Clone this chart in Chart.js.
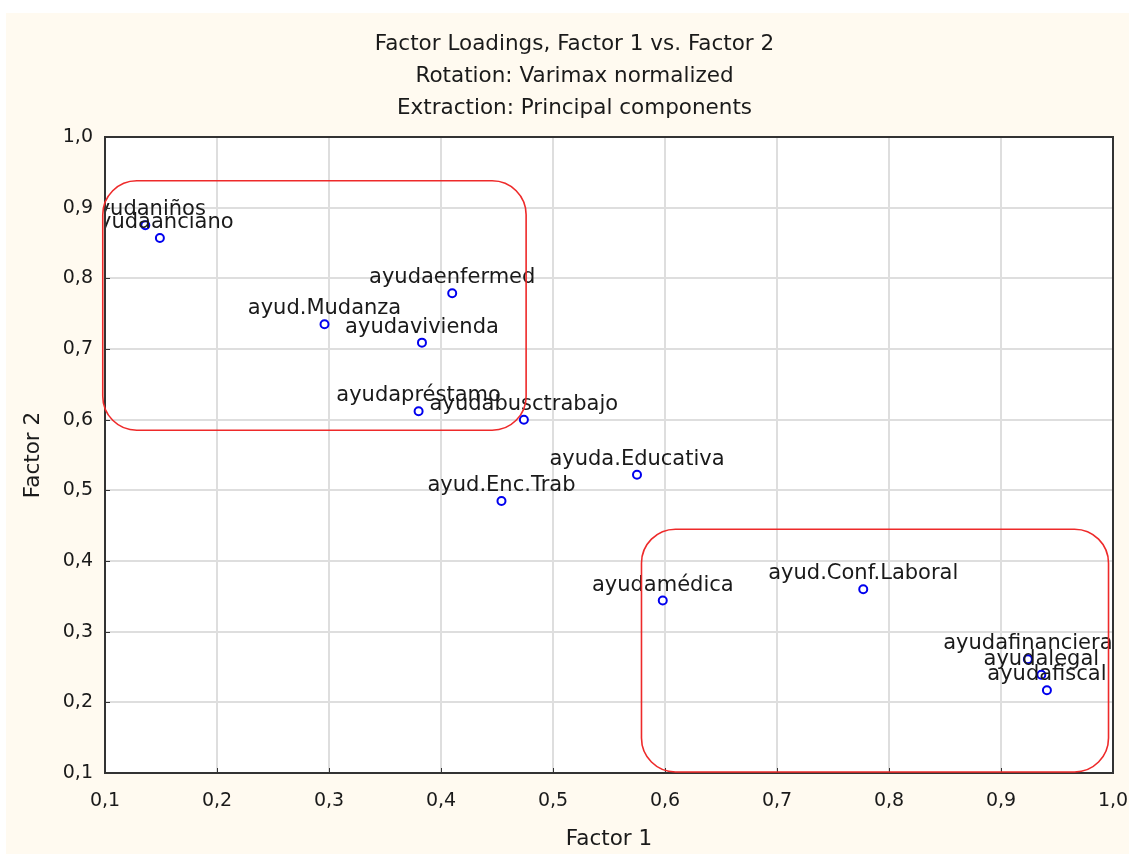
<!DOCTYPE html>
<html>
<head>
<meta charset="utf-8">
<title>Factor Loadings</title>
<script src="https://cdn.jsdelivr.net/npm/chart.js@4.4.1/dist/chart.umd.min.js"></script>
<style>
  html, body { margin: 0; padding: 0; background: #ffffff; }
  #wrap {
    position: absolute; left: 6px; top: 13px;
    width: 1123px; height: 841px;
    background: #fffaf0;
  }
</style>
</head>
<body>
<div id="wrap"><canvas id="loadings" width="1123" height="841"></canvas></div>
<script>
/* ── data ────────────────────────────────────────────────────── */
const varNames = [
    "ayudaniños", "ayudaanciano", "ayudaenfermed", "ayud.Mudanza",
    "ayudavivienda", "ayudapréstamo", "ayudabusctrabajo", "ayuda.Educativa",
    "ayud.Enc.Trab", "ayudamédica", "ayud.Conf.Laboral", "ayudafinanciera",
    "ayudalegal", "ayudafiscal"
];
const factor1 = [0.136, 0.149, 0.410, 0.296, 0.383, 0.380, 0.474, 0.575,
                 0.454, 0.598, 0.777, 0.924, 0.936, 0.941];
const factor2 = [0.875, 0.857, 0.779, 0.735, 0.709, 0.612, 0.600, 0.522,
                 0.485, 0.344, 0.360, 0.261, 0.239, 0.217];

const xTickLabels = ["0,1", "0,2", "0,3", "0,4", "0,5", "0,6", "0,7", "0,8", "0,9", "1,0"];
const yTickLabels = ["0,1", "0,2", "0,3", "0,4", "0,5", "0,6", "0,7", "0,8", "0,9", "1,0"];

// hand-drawn groupings, in factor units: from / to
const groupF1 = [0.098, 0.476];
const groupF2 = [0.585, 0.938];
const group2F1 = [0.579, 0.996];
const group2F2 = [0.1015, 0.445];

const titleLines = [
    "Factor Loadings, Factor 1 vs. Factor 2",
    "Rotation: Varimax normalized",
    "Extraction: Principal components"
];

const FONT = "'DejaVu Sans', Arial, sans-serif";
const INK  = "#1a1a1a";

/* ── plot area background, labels, frame, groupings ──────────── */
const decorations = {
    id: "decorations",
    beforeDraw(chart) {
        const {ctx, chartArea: a} = chart;
        ctx.save();
        ctx.fillStyle = "#ffffff";
        ctx.fillRect(a.left, a.top, a.right - a.left, a.bottom - a.top);
        ctx.restore();
    },
    afterDatasetsDraw(chart) {
        const {ctx, chartArea: a} = chart;
        const meta = chart.getDatasetMeta(0);
        ctx.save();
        ctx.beginPath();
        ctx.rect(a.left, a.top, a.right - a.left, a.bottom - a.top);
        ctx.clip();
        ctx.font = "21px " + FONT;
        ctx.fillStyle = INK;
        ctx.textAlign = "center";
        ctx.textBaseline = "alphabetic";
        meta.data.forEach((pt, i) => {
            ctx.fillText(varNames[i], pt.x, pt.y - 10);
        });
        ctx.restore();
    },
    afterDraw(chart) {
        const {ctx, chartArea: a, scales} = chart;
        ctx.save();

        // frame with small inner ticks
        ctx.strokeStyle = "#333333";
        ctx.lineWidth = 2;
        ctx.strokeRect(a.left, a.top, a.right - a.left, a.bottom - a.top);
        ctx.lineWidth = 1;
        ctx.beginPath();
        scales.x.ticks.forEach(t => {
            const px = Math.round(scales.x.getPixelForValue(t.value)) + 0.5;
            ctx.moveTo(px, a.bottom);
            ctx.lineTo(px, a.bottom - 5);
        });
        scales.y.ticks.forEach(t => {
            const py = Math.round(scales.y.getPixelForValue(t.value)) + 0.5;
            ctx.moveTo(a.left, py);
            ctx.lineTo(a.left + 5, py);
        });
        ctx.stroke();

        // red rounded boxes
        ctx.strokeStyle = "#ee2a2a";
        ctx.lineWidth = 1.6;
        [[groupF1, groupF2], [group2F1, group2F2]].forEach(([gx, gy]) => {
            const x0 = scales.x.getPixelForValue(gx[0]);
            const x1 = scales.x.getPixelForValue(gx[1]);
            const y0 = scales.y.getPixelForValue(gy[1]);
            const y1 = scales.y.getPixelForValue(gy[0]);
            ctx.beginPath();
            ctx.roundRect(x0, y0, x1 - x0, y1 - y0, 34);
            ctx.stroke();
        });
        ctx.restore();
    }
};

/* ── chart ───────────────────────────────────────────────────── */
const points = factor1.map((v, i) => ({x: v, y: factor2[i]}));

new Chart(document.getElementById("loadings"), {
    type: "scatter",
    data: {
        datasets: [{
            label: "Loadings",
            data: points,
            pointRadius: 4,
            pointHoverRadius: 4,
            pointBorderWidth: 2,
            borderColor: "#0000ee",
            backgroundColor: "#ffffff"
        }]
    },
    options: {
        responsive: false,
        animation: false,
        layout: { padding: { left: 15, right: 1, top: 0, bottom: 0 } },
        plugins: {
            legend: { display: false },
            tooltip: { enabled: false },
            title: {
                display: true,
                text: titleLines,
                color: INK,
                font: { family: FONT, size: 21.5, weight: "normal", lineHeight: 32 / 21.5 },
                padding: { top: 15, bottom: 13 }
            }
        },
        scales: {
            x: {
                type: "linear",
                min: 0.1,
                max: 1.0,
                afterFit(scale) { scale.height = 81; scale.paddingRight = 16; },
                ticks: {
                    stepSize: 0.1,
                    padding: 17,
                    color: INK,
                    font: { family: FONT, size: 19 },
                    maxRotation: 0,
                    callback: (v, i) => xTickLabels[i]
                },
                grid: { color: "#dedede", lineWidth: 2, drawTicks: false },
                border: { display: false },
                title: {
                    display: true,
                    text: "Factor 1",
                    color: INK,
                    font: { family: FONT, size: 21.5 },
                    padding: { top: 0, bottom: 2 }
                }
            },
            y: {
                type: "linear",
                min: 0.1,
                max: 1.0,
                afterFit(scale) { scale.width = 84; },
                ticks: {
                    stepSize: 0.1,
                    padding: 12,
                    color: INK,
                    font: { family: FONT, size: 19 },
                    callback: (v, i) => yTickLabels[i]
                },
                grid: { color: "#dedede", lineWidth: 2, drawTicks: false },
                border: { display: false },
                title: {
                    display: true,
                    text: "Factor 2",
                    color: INK,
                    font: { family: FONT, size: 21.5 },
                    padding: { top: 0, bottom: 0 }
                }
            }
        }
    },
    plugins: [decorations]
});
</script>
</body>
</html>
